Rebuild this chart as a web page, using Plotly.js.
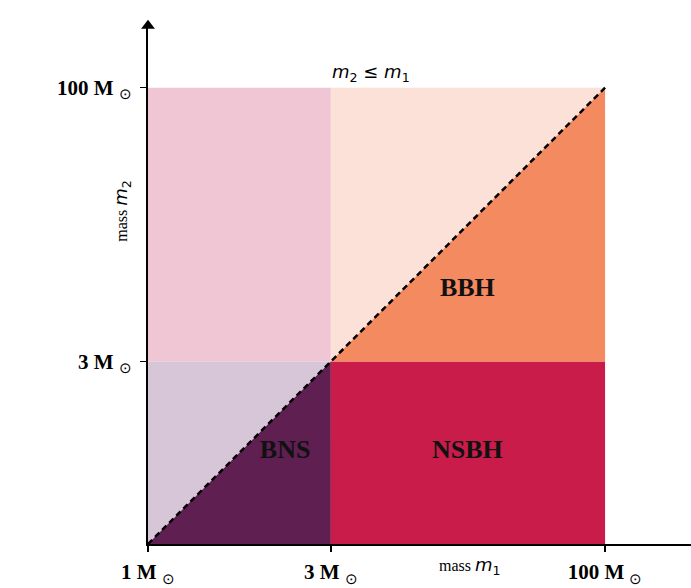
<!DOCTYPE html>
<html>
<head>
<meta charset="utf-8">
<script src="https://cdn.plot.ly/plotly-3.0.1.min.js"></script>
<style>html,body{margin:0;padding:0;background:#fff;}#chart{width:691px;height:588px;}</style>
</head>
<body>
<div id="chart"></div>
<script>
// Mass break points (solar masses) and their position on the piecewise axis
const massBreaks = [1, 3, 100];
const breakPos = [0, 1, 2.5];
const xTickLabels = ["1 M", "3 M", "100 M"];
const yTickMasses = [3, 100];
const yTickLabels = ["3 M", "100 M"];

// Regions: polygons given in solar masses (m1, m2)
const regionNames = ["upperLeft", "upperRight", "lowerLeft", "BNS", "NSBH", "BBH"];
const regionM1 = [[1,3,3,1], [3,100,100,3], [1,3,3,1], [1,3,3], [3,100,100,3], [3,100,100]];
const regionM2 = [[3,3,100,100], [3,3,100,100], [1,1,3,3], [1,1,3], [1,1,3,3], [3,3,100]];
const regionColors = ["#f0c5d4", "#fbe1d8", "#d6c6d7", "#5f1f51", "#c91c4b", "#f48a60"];

// Region labels (position in solar masses)
const labelText = ["BNS", "NSBH", "BBH"];
const labelM1 = [2.28, 17.2, 17.2];
const labelM2 = [1.74, 1.74, 7.5];

// Diagonal m2 = m1
const diagM = [1, 100];

function pos(m) {
  for (let i = 0; i < massBreaks.length - 1; i++) {
    const a = massBreaks[i], b = massBreaks[i+1];
    if (m <= b || i === massBreaks.length - 2) {
      const t = (Math.log(m) - Math.log(a)) / (Math.log(b) - Math.log(a));
      return breakPos[i] + t * (breakPos[i+1] - breakPos[i]);
    }
  }
}

const traces = regionNames.map((n, i) => ({
  type: "scatter", mode: "lines", fill: "toself",
  x: regionM1[i].map(pos), y: regionM2[i].map(pos),
  fillcolor: regionColors[i], line: {width: 0, color: regionColors[i]},
  hoverinfo: "skip", showlegend: false, name: n
}));

traces.push({
  type: "scatter", mode: "lines",
  x: diagM.map(pos), y: diagM.map(pos),
  line: {color: "#000", width: 2.5, dash: "6px,4px"},
  showlegend: false, hoverinfo: "skip"
});

traces.push({
  type: "scatter", mode: "text",
  x: labelM1.map(pos), y: labelM2.map(pos), text: labelText.map(t => "<b>" + t + "</b>"),
  textfont: {family: "Liberation Serif, Times New Roman, serif", size: 26, color: "#111"},
  showlegend: false, hoverinfo: "skip"
});

// arrow head on the y axis
traces.push({
  type: "scatter", mode: "markers", x: [0], y: [2.84],
  marker: {symbol: "triangle-up", size: 12, color: "#000"},
  cliponaxis: false, showlegend: false, hoverinfo: "skip"
});

const sun = t => "<b>" + t + "</b> <sub>⊙</sub>";
const tickFont = {family: "Liberation Serif, Times New Roman, serif", size: 21, color: "#000"};
const mathM = s => "<span style='font-family:DejaVu Sans;font-size:18px'><i>m</i><sub>" + s + "</sub></span>";

const layout = {
  width: 691, height: 588,
  margin: {l: 148, r: 0, t: 22, b: 44},
  paper_bgcolor: "#fff", plot_bgcolor: "#fff",
  xaxis: {
    range: [0, 2.97], showgrid: false, zeroline: false,
    showline: true, linecolor: "#000", linewidth: 2,
    tickmode: "array", tickvals: massBreaks.map(pos), ticktext: xTickLabels.map(sun),
    ticks: "outside", ticklen: 6, tickwidth: 1.5, tickcolor: "#000",
    tickfont: tickFont, ticklabelstandoff: 2, fixedrange: true
  },
  yaxis: {
    range: [0, 2.86], showgrid: false, zeroline: false,
    showline: true, linecolor: "#000", linewidth: 2,
    tickmode: "array", tickvals: yTickMasses.map(pos), ticktext: yTickLabels.map(sun),
    ticks: "outside", ticklen: 6, tickwidth: 1.5, tickcolor: "#000",
    tickfont: tickFont, ticklabelstandoff: 4, fixedrange: true
  },
  annotations: [
    {x: pos(5.0), y: 2.5, xref: "x", yref: "y", yanchor: "bottom", yshift: 1, showarrow: false,
     text: "<i>m</i><sub>2</sub> ≤ <i>m</i><sub>1</sub>",
     font: {family: "DejaVu Sans, sans-serif", size: 18, color: "#000"}},
    {x: pos(17.7), y: 0, xref: "x", yref: "y", yanchor: "top", yshift: -8, showarrow: false,
     text: "mass " + mathM("1"),
     font: {family: "Liberation Serif, Times New Roman, serif", size: 16, color: "#000"}},
    {x: 0, y: pos(20.7), xref: "x", yref: "y", xanchor: "right", xshift: -12, showarrow: false,
     textangle: -90, text: "mass " + mathM("2"),
     font: {family: "Liberation Serif, Times New Roman, serif", size: 16, color: "#000"}}
  ],
  showlegend: false
};

Plotly.newPlot("chart", traces, layout, {staticPlot: true});
</script>
</body>
</html>
